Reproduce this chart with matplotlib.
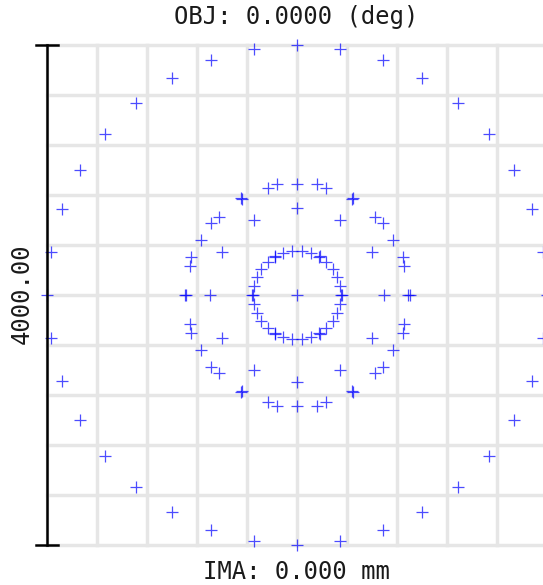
import numpy as np
import matplotlib
matplotlib.use('Agg')
import matplotlib.pyplot as plt

# Spot diagram (units: micrometres, box is 4000 wide)
# hexapolar rings: number of rays per ring and the radius each ring lands at
ring_counts = [1, 6, 12, 18, 24, 30, 36]
ring_radii = [0, 360, 694, 900, 886, 352, 2000]

box_size = 4000.0
grid_step = 400.0

title_text = 'OBJ: 0.0000 (deg)'
bottom_text = 'IMA: 0.000 mm'
scale_text = '4000.00'

# build the ray intercepts (ring n starts at 0 deg from the x axis)
xs, ys = [], []
for n, r in zip(ring_counts, ring_radii):
    ang = np.deg2rad(np.arange(n) * 360.0 / n)
    xs.extend(r * np.cos(ang))
    ys.extend(r * np.sin(ang))

fig = plt.figure(figsize=(5.43, 5.85), dpi=100)
ax = fig.add_axes([47 / 543, 40 / 585, 500 / 543, 500 / 585])

half = box_size / 2
ax.set_xlim(-half, half)
ax.set_ylim(-half, half)

# light grid, including the box edges
ticks = np.arange(-half, half + 1, grid_step)
for t in ticks:
    ax.axvline(t, color='#e6e6e6', lw=2.5, zorder=0, clip_on=False)
    ax.axhline(t, color='#e6e6e6', lw=2.5, zorder=0, clip_on=False)

ax.plot(xs, ys, linestyle='none', marker='+', markersize=8, mew=0.9,
        color='#0000ff', alpha=0.7, clip_on=False, zorder=3)

# scale bar on the left
cap = 85
ax.plot([-half, -half], [-half, half], color='black', lw=1.8, clip_on=False, zorder=4)
ax.plot([-half - cap, -half + cap], [half, half], color='black', lw=1.8, clip_on=False, zorder=4)
ax.plot([-half - cap, -half + cap], [-half, -half], color='black', lw=1.8, clip_on=False, zorder=4)

for s in ax.spines.values():
    s.set_visible(False)
ax.set_xticks([])
ax.set_yticks([])

font = dict(family='DejaVu Sans Mono', fontsize=17.2, color='#1a1a1a')
fig.text(296 / 543, 1 - 17 / 585, title_text, ha='center', va='center', **font)
fig.text(296 / 543, 1 - 572 / 585, bottom_text, ha='center', va='center', **font)
fig.text(22 / 543, 1 - 294 / 585, scale_text, ha='center', va='center', rotation=90, **font)

fig.savefig('out.png', dpi=100)
